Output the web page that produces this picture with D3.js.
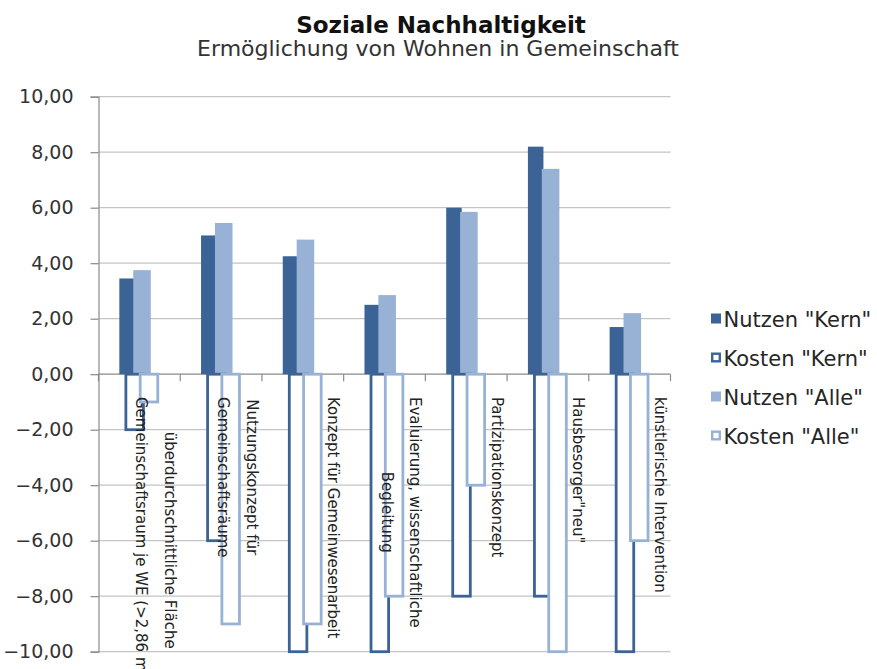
<!DOCTYPE html>
<html>
<head>
<meta charset="utf-8">
<script src="https://cdn.jsdelivr.net/npm/d3@7/dist/d3.min.js"></script>
<style>
  body { margin: 0; background: #fff; }
  text { font-family: "DejaVu Sans", sans-serif; fill: #262626; }
</style>
</head>
<body>
<svg id="chart" width="877" height="669"></svg>
<script>
// Category labels (one entry per line of the wrapped label)
const categories = [
  ["überdurchschnittliche Fläche", "Gemeinschaftsraum je WE (>2,86 m²)"],
  ["Nutzungskonzept für", "Gemeinschaftsräume"],
  ["Konzept für Gemeinwesenarbeit"],
  ["Evaluierung, wissenschaftliche", "Begleitung"],
  ["Partizipationskonzept"],
  ["Hausbesorger\"neu\""],
  ["künstlerische Intervention"]
];
const nutzenKern = [3.45, 5.0, 4.25, 2.5, 6.0, 8.2, 1.7];
const nutzenAlle = [3.75, 5.45, 4.85, 2.85, 5.85, 7.4, 2.2];
const kostenKern = [-2, -6, -10, -10, -8, -8, -10];
const kostenAlle = [-1, -9, -9, -8, -4, -10, -6];
const yTicks = [-10, -8, -6, -4, -2, 0, 2, 4, 6, 8, 10];
const seriesNames = ['Nutzen "Kern"', 'Kosten "Kern"', 'Nutzen "Alle"', 'Kosten "Alle"'];

const DARK = "#3b6396";
const LIGHT = "#97b2d5";

const svg = d3.select("#chart");

const x = d3.scaleBand().domain(d3.range(categories.length)).range([98.5, 670.5]).padding(0);
const y = d3.scaleLinear().domain([-10, 10]).range([651.7, 96.7]);
const bw = x.bandwidth();
const fmt = v => d3.format(".2f")(v).replace(".", ",");

// Title
svg.append("text").attr("x", 441).attr("y", 33)
  .attr("text-anchor", "middle").style("font-size", "23px").style("font-weight", "bold")
  .style("fill", "#111").text("Soziale Nachhaltigkeit");
svg.append("text").attr("x", 438).attr("y", 56)
  .attr("text-anchor", "middle").style("font-size", "22px").style("fill", "#333")
  .text("Ermöglichung von Wohnen in Gemeinschaft");

// Horizontal gridlines
svg.append("g").selectAll("line").data(yTicks.filter(t => t !== 0)).join("line")
  .attr("x1", 98.5).attr("x2", 670.5)
  .attr("y1", d => y(d)).attr("y2", d => y(d))
  .attr("stroke", "#c4c4c4").attr("stroke-width", 1.2);

// Y axis
const yAxis = d3.axisLeft(y).tickValues(yTicks).tickFormat(fmt).tickSize(8).tickPadding(17);
const gy = svg.append("g").attr("transform", "translate(98.5,0)").call(yAxis);
gy.select(".domain").attr("stroke", "#8a8a8a").attr("stroke-width", 1.2);
gy.selectAll(".tick line").attr("stroke", "#8a8a8a").attr("stroke-width", 1.2);
gy.selectAll(".tick text").style("font-size", "19px").style("fill", "#333")
  .style("font-family", "'DejaVu Sans', sans-serif");

// Zero line with category tick marks
svg.append("line").attr("x1", 98.5).attr("x2", 670.5).attr("y1", y(0)).attr("y2", y(0))
  .attr("stroke", "#8a8a8a").attr("stroke-width", 1.2);
const bounds = d3.range(categories.length + 1).map(i => 98.5 + i * bw);
svg.append("g").selectAll("line").data(bounds).join("line")
  .attr("x1", d => d).attr("x2", d => d).attr("y1", y(0)).attr("y2", y(0) + 7)
  .attr("stroke", "#8a8a8a").attr("stroke-width", 1.2);

// Benefit bars (filled)
svg.append("g").selectAll("rect").data(nutzenKern).join("rect")
  .attr("x", (d, i) => x(i) + 0.255 * bw).attr("width", 0.19 * bw)
  .attr("y", d => y(d)).attr("height", d => y(0) - y(d)).attr("fill", DARK);
svg.append("g").selectAll("rect").data(nutzenAlle).join("rect")
  .attr("x", (d, i) => x(i) + 0.425 * bw).attr("width", 0.215 * bw)
  .attr("y", d => y(d)).attr("height", d => y(0) - y(d)).attr("fill", LIGHT);

// Cost bars (outlined, white fill)
svg.append("g").selectAll("rect").data(kostenKern).join("rect")
  .attr("x", (d, i) => x(i) + 0.335 * bw).attr("width", 0.215 * bw)
  .attr("y", y(0)).attr("height", d => y(d) - y(0))
  .attr("fill", "#fff").attr("stroke", DARK).attr("stroke-width", 2.8);
svg.append("g").selectAll("rect").data(kostenAlle).join("rect")
  .attr("x", (d, i) => x(i) + 0.51 * bw).attr("width", 0.215 * bw)
  .attr("y", y(0)).attr("height", d => y(d) - y(0))
  .attr("fill", "#fff").attr("stroke", LIGHT).attr("stroke-width", 2.8);

// Rotated category labels, lines centred on each other
const labelTop = 397;
categories.forEach((lines, i) => {
  const g = svg.append("g");
  const texts = lines.map((s, k) => g.append("text")
    .style("font-size", "15px").style("fill", "#222")
    .attr("text-anchor", "middle").text(s));
  const maxLen = d3.max(texts, t => t.node().getComputedTextLength());
  const bx = x(i) + bw / 2 + 25.5;
  texts.forEach((t, k) => {
    t.attr("transform", `translate(${bx - k * 28.5},${labelTop + maxLen / 2}) rotate(90)`);
  });
});

// Legend
const legend = svg.append("g").attr("transform", "translate(711,0)");
const legendY = [326.5, 365.5, 404.5, 443.5];
seriesNames.forEach((name, i) => {
  const yy = legendY[i];
  const outlined = i % 2 === 1;
  const col = i < 2 ? DARK : LIGHT;
  legend.append("rect")
    .attr("x", outlined ? 1.2 : 0).attr("y", yy - 13 + (outlined ? 1.2 : 0))
    .attr("width", outlined ? 7.6 : 10).attr("height", outlined ? 7.6 : 10)
    .attr("fill", outlined ? "#fff" : col)
    .attr("stroke", outlined ? col : "none").attr("stroke-width", outlined ? 2.4 : 0);
  legend.append("text").attr("x", 12.5).attr("y", yy)
    .style("font-size", "21px").style("fill", "#262626").text(name);
});
</script>
</body>
</html>
